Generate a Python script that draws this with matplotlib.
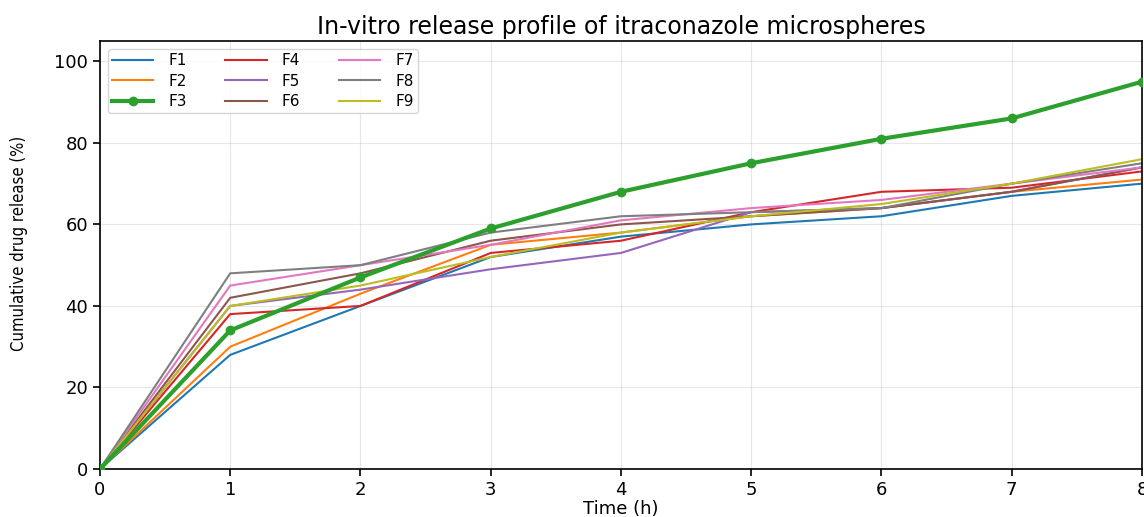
import matplotlib
matplotlib.use("Agg")
from matplotlib import pyplot as plt

# time points (h)
time_h = [0, 1, 2, 3, 4, 5, 6, 7, 8]

# cumulative release (%) per formulation
F1 = [0, 28, 40, 52, 57, 60, 62, 67, 70]
F2 = [0, 30, 43, 55, 58, 62, 64, 68, 71]
F3 = [0, 34, 47, 59, 68, 75, 81, 86, 95]
F4 = [0, 38, 40, 53, 56, 63, 68, 69, 73]
F5 = [0, 40, 44, 49, 53, 63, 64, 68, 74]
F6 = [0, 42, 48, 56, 60, 62, 64, 68, 74]
F7 = [0, 45, 50, 55, 61, 64, 66, 70, 74]
F8 = [0, 48, 50, 58, 62, 63, 64, 70, 75]
F9 = [0, 40, 45, 52, 58, 62, 65, 70, 76]

names = ["F1", "F2", "F3", "F4", "F5", "F6", "F7", "F8", "F9"]
series = [F1, F2, F3, F4, F5, F6, F7, F8, F9]

fig = plt.figure(figsize=(11.44, 5.17), dpi=100)
ax = fig.add_axes([0.0874, 0.0928, 0.9108, 0.828])

for i in range(len(names)):
    if names[i] == "F3":
        ax.plot(time_h, series[i], color="C2", lw=3, marker="o", ms=6, label=names[i], zorder=5)
    else:
        ax.plot(time_h, series[i], color="C%d" % i, lw=1.5, label=names[i])

ax.set_xlim(0, 8)
ax.set_ylim(0, 105)
ax.set_yticks([0, 20, 40, 60, 80, 100])
ax.grid(True, alpha=0.3)
ax.tick_params(labelsize=13, width=1.2, length=5)
for s in ax.spines.values():
    s.set_linewidth(1.2)
ax.set_title("In-vitro release profile of itraconazole microspheres", fontsize=17, pad=5)
ax.set_xlabel("Time (h)", fontsize=13, labelpad=1)
ax.set_ylabel("Cumulative drug release (%)", fontsize=12, family="DejaVu Sans",
              fontstretch="condensed")
ax.yaxis.set_label_coords(-0.069, 0.526)
ax.legend(ncol=3, loc="upper left", prop={"size": 11, "family": "DejaVu Sans", "stretch": "normal"},
          handlelength=2.7, handletextpad=1.0, columnspacing=2.5, borderpad=0.3, labelspacing=0.35)

fig.savefig("out.png", dpi=100)
